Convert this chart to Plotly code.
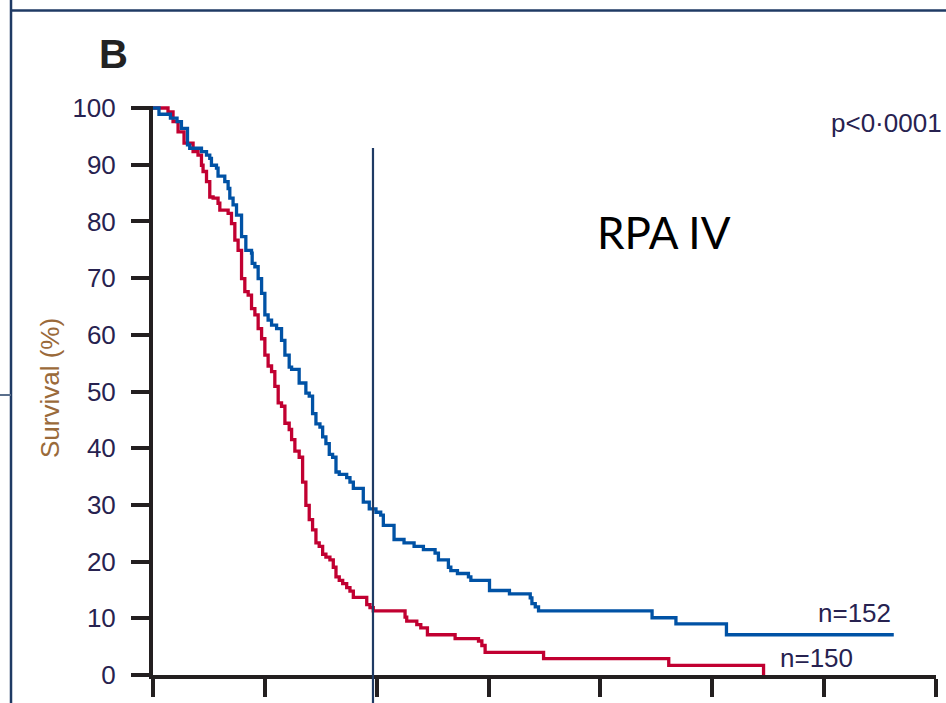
import plotly.graph_objects as go

# Kaplan-Meier step data: time (months) at each step and survival (%) after it
blue_time = [0, 0.64, 1.87, 2.58, 3.05, 3.70, 3.94, 5.20, 5.74, 6.09, 6.27, 6.81, 6.98,
             7.70, 8.06, 8.24, 8.59, 8.96, 9.50, 9.96, 10.57, 10.64, 10.93, 11.28, 11.65,
             12.00, 12.35, 12.72, 13.26, 13.79, 14.15, 14.61, 14.87, 15.68, 16.40, 16.76,
             17.12, 17.48, 17.91, 18.20, 18.55, 18.91, 19.27, 19.63, 19.98, 20.78, 21.13,
             21.49, 22.56, 23.20, 23.92, 24.43, 24.71, 25.86, 26.93, 28.01, 29.01, 30.26,
             30.62, 31.69, 31.95, 32.66, 33.84, 34.10, 36.10, 38.24, 40.47, 40.65, 41.01,
             41.36, 53.54, 56.10, 61.52, 79.47]
blue_surv = [100, 98.9, 98.2, 97.6, 96.4, 93.5, 92.9, 92.3, 91.7, 91.1, 89.9, 89.4, 88.0,
             87.0, 85.8, 84.1, 82.9, 81.1, 77.3, 74.9, 74.4, 72.6, 72.0, 69.9, 67.3,
             63.5, 62.6, 61.7, 61.1, 59.0, 56.4, 54.3, 53.9, 51.5, 49.7, 49.2,
             46.1, 44.3, 43.7, 42.0, 40.8, 38.9, 38.4, 35.8, 35.4, 34.8, 34.0,
             32.9, 30.5, 29.3, 28.7, 28.2, 26.4, 23.9, 23.3, 22.7, 22.1, 21.5,
             20.3, 19.0, 18.4, 17.9, 17.3, 16.7, 14.9, 14.3, 13.6, 12.6, 12.0,
             11.3, 10.1, 9.0, 7.1, 7.1]

red_time = [0, 1.61, 2.15, 2.69, 3.33, 4.30, 4.83, 5.20, 5.37, 5.74, 6.09, 6.45, 6.98,
            7.17, 8.06, 8.42, 8.78, 9.13, 9.50, 9.85, 10.21, 10.57, 10.93, 11.28, 11.65,
            12.00, 12.35, 12.72, 13.07, 13.43, 13.79, 14.15, 14.61, 14.87, 15.22, 15.68,
            16.05, 16.40, 16.76, 17.12, 17.48, 17.83, 18.20, 18.55, 18.98, 19.34, 19.63,
            19.98, 20.35, 20.78, 21.13, 21.49, 22.93, 23.28, 23.63, 27.04, 27.22, 28.30,
            28.73, 29.44, 32.41, 34.92, 35.28, 35.63, 41.90, 55.33, 65.50]
red_surv = [100, 99.3, 97.6, 95.8, 93.8, 92.3, 91.7, 89.9, 88.8, 87.0, 84.3, 84.1, 83.2,
            82.0, 81.4, 79.6, 76.7, 74.9, 69.9, 67.6, 67.0, 64.6, 63.5, 61.1, 59.3,
            56.4, 54.5, 53.5, 50.9, 48.0, 47.4, 44.4, 43.3, 41.5, 39.5, 38.4,
            34.0, 29.9, 27.4, 25.6, 23.3, 22.7, 21.3, 20.8, 20.3, 19.0, 17.3,
            16.7, 16.1, 15.4, 14.8, 13.7, 12.4, 11.9, 11.3, 10.2, 9.5, 8.9,
            8.3, 7.1, 6.4, 6.0, 5.2, 4.0, 2.9, 1.7, 0.0]

blue_label = "n=152"
red_label = "n=150"
y_ticks = [0, 10, 20, 30, 40, 50, 60, 70, 80, 90, 100]
x_ticks = [0, 12, 24, 36, 48, 60, 72, 84]
landmark_time = 23.6  # 2-year landmark line

W, H = 946, 703
PLOT_L, PLOT_R, PLOT_T, PLOT_B = 153, 936, 106, 675
X_MAX = 84
Y_TOP = 100 * (PLOT_B - PLOT_T) / (PLOT_B - 108)

RED = "#c10031"
BLUE = "#0052a5"
AXIS = "#231f20"
NAVY = "#1f3a64"
TXT = "#272250"
NUM_FONT = "Liberation Sans"


def fx(p):
    return (p - PLOT_L) / (PLOT_R - PLOT_L)


def fy(p):
    return (PLOT_B - p) / (PLOT_B - PLOT_T)


fig = go.Figure()
fig.add_trace(go.Scatter(x=red_time, y=red_surv, mode="lines", line_shape="hv",
                         line=dict(color=RED, width=3.3), hoverinfo="skip"))
fig.add_trace(go.Scatter(x=blue_time, y=blue_surv, mode="lines", line_shape="hv",
                         line=dict(color=BLUE, width=3.3), hoverinfo="skip"))

shapes = [
    # frame lines around the panel
    dict(type="line", xref="paper", yref="paper", x0=fx(11), x1=fx(W), y0=fy(10.5), y1=fy(10.5),
         line=dict(color=NAVY, width=2.5)),
    dict(type="line", xref="paper", yref="paper", x0=fx(11), x1=fx(11), y0=fy(0), y1=fy(H),
         line=dict(color=NAVY, width=2.5)),
    dict(type="line", xref="paper", yref="paper", x0=fx(0), x1=fx(11), y0=fy(395), y1=fy(395),
         line=dict(color="#5a6f8c", width=2)),
    # landmark line
    dict(type="line", xref="paper", yref="paper", x0=landmark_time / X_MAX, x1=landmark_time / X_MAX,
         y0=fy(H), y1=fy(148), line=dict(color=NAVY, width=2.2)),
]


def label(text, x, y, size, color, family=NUM_FONT, xanchor="center", **kw):
    return dict(text=text, x=fx(x), y=fy(y), xref="paper", yref="paper",
                xanchor=xanchor, yanchor="middle", showarrow=False,
                font=dict(family=family, size=size, color=color), **kw)


annotations = [
    label("<b>B</b>", 113, 54, 40, "#222222"),
    label("Survival (%)", 50, 388, 26, "#9a6a3a", textangle=-90),
    label("p<0·0001", 944, 123, 26, TXT, xanchor="right"),
    label("RPA IV", 664, 232, 44, "#000000", family="Lato"),
    label(blue_label, 893, 613, 26, TXT, xanchor="right"),
    label(red_label, 855, 658, 26, TXT, xanchor="right"),
]

fig.update_layout(
    width=W, height=H,
    margin=dict(l=PLOT_L, r=W - PLOT_R, t=PLOT_T, b=H - PLOT_B),
    paper_bgcolor="white", plot_bgcolor="white",
    showlegend=False,
    shapes=shapes,
    annotations=annotations,
    xaxis=dict(range=[0, X_MAX], tickvals=x_ticks, showticklabels=False,
               ticks="outside", ticklen=18, tickwidth=3.5, tickcolor=AXIS,
               showline=True, linecolor=AXIS, linewidth=3.5, showgrid=False, zeroline=False,
               fixedrange=True),
    yaxis=dict(range=[0, Y_TOP], tickvals=y_ticks, ticktext=[str(v) for v in y_ticks],
               ticks="outside", ticklen=18, tickwidth=4, tickcolor=AXIS,
               showline=True, linecolor=AXIS, linewidth=4, showgrid=False, zeroline=False,
               tickfont=dict(family=NUM_FONT, size=26, color=TXT), ticklabelstandoff=10,
               fixedrange=True),
)

fig.write_html("out.html")
